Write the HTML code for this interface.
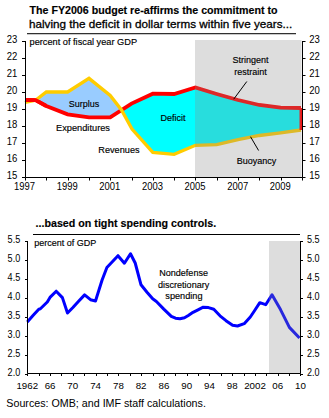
<!DOCTYPE html><html><head><meta charset="utf-8"><style>html,body{margin:0;padding:0;background:#fff;width:329px;height:418px;overflow:hidden}svg{display:block}text{font-family:"Liberation Sans", sans-serif;fill:#000;stroke:#000;stroke-width:0.15px}text.n{stroke-width:0}</style></head><body>
<svg width="329" height="418" viewBox="0 0 329 418">
<text x="29.5" y="14.2" font-size="11" font-weight="bold" textLength="248" lengthAdjust="spacingAndGlyphs">The FY2006 budget re-affirms the commitment to</text>
<text x="29" y="27.5" font-size="11.5" textLength="263.3" style="stroke-width:0.3px" lengthAdjust="spacingAndGlyphs">halving the deficit in dollar terms within five years...</text>
<rect x="27" y="33" width="269" height="1" fill="#303030"/><rect x="27" y="34" width="269" height="1" fill="#c8c8c8"/>
<polygon points="35.60,100.20 46.30,92.00 67.60,92.00 89.00,78.40 110.20,95.50 121.50,110.00 121.55,110.09 110.20,117.30 89.00,117.30 67.60,114.30 46.30,106.00" fill="#99CCFF"/>
<polygon points="121.55,110.00 131.50,103.60 152.80,93.70 174.10,94.00 195.40,87.50 216.70,94.00 238.00,100.00 259.30,105.00 280.60,107.70 301.00,108.00 301.00,130.00 280.60,132.80 259.30,135.50 238.00,139.60 216.70,144.60 195.40,145.30 174.10,154.30 152.80,152.40 132.00,129.00" fill="#00FFFF"/>
<polyline points="25.00,100.00 35.60,100.20 46.30,106.00 67.60,114.30 89.00,117.30 110.20,117.30 131.50,103.60 152.80,93.70 174.10,94.00 195.40,87.50 216.70,94.00 238.00,100.00 259.30,105.00 280.60,107.70 301.00,108.00" fill="none" stroke="#FF0000" stroke-width="3.8" stroke-linejoin="miter"/>
<polyline points="25.00,102.50 35.60,100.20 46.30,92.00 67.60,92.00 89.00,78.40 110.20,95.50 121.50,110.00 132.00,129.00 152.80,152.40 174.10,154.30 195.40,145.30 216.70,144.60 238.00,139.60 259.30,135.50 280.60,132.80 301.00,130.00" fill="none" stroke="#FFCC00" stroke-width="3.3" stroke-linejoin="miter"/>
<polyline points="25.00,100.00 35.60,100.20 46.30,106.00" fill="none" stroke="#FF0000" stroke-width="3.8" stroke-linejoin="miter"/>
<line x1="300.8" y1="108" x2="300.8" y2="130" stroke="#FF0000" stroke-width="2.6"/>
<rect x="195" y="40" width="106.5" height="137" fill="rgb(138,138,138)" fill-opacity="0.29"/>
<path d="M25.5,41 V177.5 H302.5 V41" fill="none" stroke="#000" stroke-width="1"/>
<path d="M22,41.5 H25.5 M302.5,41.5 H305.5 M22,58.5 H25.5 M302.5,58.5 H305.5 M22,75.5 H25.5 M302.5,75.5 H305.5 M22,92.5 H25.5 M302.5,92.5 H305.5 M22,109.5 H25.5 M302.5,109.5 H305.5 M22,126.5 H25.5 M302.5,126.5 H305.5 M22,143.5 H25.5 M302.5,143.5 H305.5 M22,160.5 H25.5 M302.5,160.5 H305.5 M22,177.5 H25.5 M302.5,177.5 H305.5 M25.5,177.5 V180.5 M46.5,177.5 V180.5 M68.5,177.5 V180.5 M89.5,177.5 V180.5 M110.5,177.5 V180.5 M132.5,177.5 V180.5 M153.5,177.5 V180.5 M174.5,177.5 V180.5 M195.5,177.5 V180.5 M217.5,177.5 V180.5 M238.5,177.5 V180.5 M259.5,177.5 V180.5 M281.5,177.5 V180.5 M302.5,177.5 V180.5" fill="none" stroke="#000" stroke-width="1"/>
<text class="n" x="17.4" y="42.9" font-size="10.3" text-anchor="end" textLength="10.6" lengthAdjust="spacingAndGlyphs">23</text>
<text class="n" x="309.3" y="42.9" font-size="10.3" textLength="10.6" lengthAdjust="spacingAndGlyphs">23</text>
<text class="n" x="17.4" y="59.9" font-size="10.3" text-anchor="end" textLength="10.6" lengthAdjust="spacingAndGlyphs">22</text>
<text class="n" x="309.3" y="59.9" font-size="10.3" textLength="10.6" lengthAdjust="spacingAndGlyphs">22</text>
<text class="n" x="17.4" y="76.9" font-size="10.3" text-anchor="end" textLength="10.6" lengthAdjust="spacingAndGlyphs">21</text>
<text class="n" x="309.3" y="76.9" font-size="10.3" textLength="10.6" lengthAdjust="spacingAndGlyphs">21</text>
<text class="n" x="17.4" y="93.9" font-size="10.3" text-anchor="end" textLength="10.6" lengthAdjust="spacingAndGlyphs">20</text>
<text class="n" x="309.3" y="93.9" font-size="10.3" textLength="10.6" lengthAdjust="spacingAndGlyphs">20</text>
<text class="n" x="17.4" y="110.9" font-size="10.3" text-anchor="end" textLength="10.6" lengthAdjust="spacingAndGlyphs">19</text>
<text class="n" x="309.3" y="110.9" font-size="10.3" textLength="10.6" lengthAdjust="spacingAndGlyphs">19</text>
<text class="n" x="17.4" y="127.9" font-size="10.3" text-anchor="end" textLength="10.6" lengthAdjust="spacingAndGlyphs">18</text>
<text class="n" x="309.3" y="127.9" font-size="10.3" textLength="10.6" lengthAdjust="spacingAndGlyphs">18</text>
<text class="n" x="17.4" y="144.9" font-size="10.3" text-anchor="end" textLength="10.6" lengthAdjust="spacingAndGlyphs">17</text>
<text class="n" x="309.3" y="144.9" font-size="10.3" textLength="10.6" lengthAdjust="spacingAndGlyphs">17</text>
<text class="n" x="17.4" y="161.9" font-size="10.3" text-anchor="end" textLength="10.6" lengthAdjust="spacingAndGlyphs">16</text>
<text class="n" x="309.3" y="161.9" font-size="10.3" textLength="10.6" lengthAdjust="spacingAndGlyphs">16</text>
<text class="n" x="17.4" y="178.9" font-size="10.3" text-anchor="end" textLength="10.6" lengthAdjust="spacingAndGlyphs">15</text>
<text class="n" x="309.3" y="178.9" font-size="10.3" textLength="10.6" lengthAdjust="spacingAndGlyphs">15</text>
<text class="n" x="24.6" y="189.8" font-size="10.3" text-anchor="middle" textLength="21" lengthAdjust="spacingAndGlyphs">1997</text>
<text class="n" x="67.2" y="189.8" font-size="10.3" text-anchor="middle" textLength="21" lengthAdjust="spacingAndGlyphs">1999</text>
<text class="n" x="109.8" y="189.8" font-size="10.3" text-anchor="middle" textLength="21" lengthAdjust="spacingAndGlyphs">2001</text>
<text class="n" x="152.4" y="189.8" font-size="10.3" text-anchor="middle" textLength="21" lengthAdjust="spacingAndGlyphs">2003</text>
<text class="n" x="195.1" y="189.8" font-size="10.3" text-anchor="middle" textLength="21" lengthAdjust="spacingAndGlyphs">2005</text>
<text class="n" x="237.7" y="189.8" font-size="10.3" text-anchor="middle" textLength="21" lengthAdjust="spacingAndGlyphs">2007</text>
<text class="n" x="280.3" y="189.8" font-size="10.3" text-anchor="middle" textLength="21" lengthAdjust="spacingAndGlyphs">2009</text>
<text x="29.5" y="44.6" font-size="9" textLength="107.6" lengthAdjust="spacingAndGlyphs">percent of fiscal year GDP</text>
<text x="84" y="106.8" font-size="9" text-anchor="middle">Surplus</text>
<text x="56" y="130.8" font-size="9" textLength="54" lengthAdjust="spacingAndGlyphs">Expenditures</text>
<text x="98.3" y="153.4" font-size="9" textLength="41.3" lengthAdjust="spacingAndGlyphs">Revenues</text>
<text x="173" y="120.8" font-size="9" text-anchor="middle">Deficit</text>
<text x="250.5" y="63.2" font-size="9" text-anchor="middle">Stringent</text>
<text x="250.5" y="74.7" font-size="9" text-anchor="middle">restraint</text>
<text x="256.5" y="163.9" font-size="9" text-anchor="middle">Buoyancy</text>
<line x1="246.8" y1="81.5" x2="233.7" y2="99.2" stroke="#000" stroke-width="1"/>
<line x1="250.5" y1="136.7" x2="258.6" y2="150.5" stroke="#000" stroke-width="1"/>
<text x="35.5" y="226.7" font-size="11" font-weight="bold" textLength="180.6" lengthAdjust="spacingAndGlyphs">...based on tight spending controls.</text>
<rect x="33" y="234" width="267" height="1" fill="#000"/>
<polyline points="27.30,322.00 33.00,315.50 38.80,309.20 40.40,308.80 47.30,302.00 50.00,297.40 56.20,291.20 62.40,297.60 67.50,313.00 72.90,307.50 78.60,301.30 84.60,294.90 90.50,299.70 95.50,301.00 102.10,280.00 106.90,267.50 112.80,261.30 118.00,255.70 124.40,263.20 130.50,253.80 135.20,263.00 141.00,284.80 147.00,292.20 152.70,298.80 156.40,301.50 163.80,309.10 171.30,316.40 175.50,318.20 180.00,318.80 184.50,317.80 188.30,315.50 193.00,312.30 198.00,309.80 203.20,307.20 208.50,307.60 213.80,309.20 220.00,315.80 226.00,320.70 232.60,325.30 237.50,326.00 244.20,323.70 250.30,317.00 254.00,311.50 259.80,302.70 265.70,304.70 272.00,294.80 280.50,309.60 289.40,327.40 299.50,338.00" fill="none" stroke="#0000FF" stroke-width="3" stroke-linejoin="round"/>
<rect x="269" y="241" width="31" height="132" fill="rgb(138,138,138)" fill-opacity="0.29"/>
<path d="M27.5,241 V373.5 H300.5 M300.5,373.5 V241" fill="none" stroke="#000" stroke-width="1"/>
<path d="M25,241.5 H27.5 M300.5,241.5 H303 M25,260.5 H27.5 M300.5,260.5 H303 M25,279.5 H27.5 M300.5,279.5 H303 M25,298.5 H27.5 M300.5,298.5 H303 M25,317.5 H27.5 M300.5,317.5 H303 M25,336.5 H27.5 M300.5,336.5 H303 M25,355.5 H27.5 M300.5,355.5 H303 M25,374.5 H27.5 M300.5,374.5 H303 M27.5,373.5 V376 M39.5,373.5 V376 M50.5,373.5 V376 M61.5,373.5 V376 M73.5,373.5 V376 M84.5,373.5 V376 M96.5,373.5 V376 M107.5,373.5 V376 M118.5,373.5 V376 M130.5,373.5 V376 M141.5,373.5 V376 M153.5,373.5 V376 M164.5,373.5 V376 M175.5,373.5 V376 M187.5,373.5 V376 M198.5,373.5 V376 M209.5,373.5 V376 M221.5,373.5 V376 M232.5,373.5 V376 M244.5,373.5 V376 M255.5,373.5 V376 M266.5,373.5 V376 M278.5,373.5 V376 M289.5,373.5 V376 M300.5,373.5 V376" fill="none" stroke="#000" stroke-width="1"/>
<text class="n" x="20.2" y="243.3" font-size="10.3" text-anchor="end" textLength="12.6" lengthAdjust="spacingAndGlyphs">5.5</text>
<text class="n" x="306.9" y="243.3" font-size="10.3" textLength="12.6" lengthAdjust="spacingAndGlyphs">5.5</text>
<text class="n" x="20.2" y="262.2" font-size="10.3" text-anchor="end" textLength="12.6" lengthAdjust="spacingAndGlyphs">5.0</text>
<text class="n" x="306.9" y="262.2" font-size="10.3" textLength="12.6" lengthAdjust="spacingAndGlyphs">5.0</text>
<text class="n" x="20.2" y="281.1" font-size="10.3" text-anchor="end" textLength="12.6" lengthAdjust="spacingAndGlyphs">4.5</text>
<text class="n" x="306.9" y="281.1" font-size="10.3" textLength="12.6" lengthAdjust="spacingAndGlyphs">4.5</text>
<text class="n" x="20.2" y="300.0" font-size="10.3" text-anchor="end" textLength="12.6" lengthAdjust="spacingAndGlyphs">4.0</text>
<text class="n" x="306.9" y="300.0" font-size="10.3" textLength="12.6" lengthAdjust="spacingAndGlyphs">4.0</text>
<text class="n" x="20.2" y="318.8" font-size="10.3" text-anchor="end" textLength="12.6" lengthAdjust="spacingAndGlyphs">3.5</text>
<text class="n" x="306.9" y="318.8" font-size="10.3" textLength="12.6" lengthAdjust="spacingAndGlyphs">3.5</text>
<text class="n" x="20.2" y="337.7" font-size="10.3" text-anchor="end" textLength="12.6" lengthAdjust="spacingAndGlyphs">3.0</text>
<text class="n" x="306.9" y="337.7" font-size="10.3" textLength="12.6" lengthAdjust="spacingAndGlyphs">3.0</text>
<text class="n" x="20.2" y="356.6" font-size="10.3" text-anchor="end" textLength="12.6" lengthAdjust="spacingAndGlyphs">2.5</text>
<text class="n" x="306.9" y="356.6" font-size="10.3" textLength="12.6" lengthAdjust="spacingAndGlyphs">2.5</text>
<text class="n" x="20.2" y="375.5" font-size="10.3" text-anchor="end" textLength="12.6" lengthAdjust="spacingAndGlyphs">2.0</text>
<text class="n" x="306.9" y="375.5" font-size="10.3" textLength="12.6" lengthAdjust="spacingAndGlyphs">2.0</text>
<text class="n" x="27.3" y="388.8" font-size="9.75" text-anchor="middle">1962</text>
<text class="n" x="50.1" y="388.8" font-size="9.75" text-anchor="middle">66</text>
<text class="n" x="72.8" y="388.8" font-size="9.75" text-anchor="middle">70</text>
<text class="n" x="95.6" y="388.8" font-size="9.75" text-anchor="middle">74</text>
<text class="n" x="118.4" y="388.8" font-size="9.75" text-anchor="middle">78</text>
<text class="n" x="141.1" y="388.8" font-size="9.75" text-anchor="middle">82</text>
<text class="n" x="163.9" y="388.8" font-size="9.75" text-anchor="middle">86</text>
<text class="n" x="186.7" y="388.8" font-size="9.75" text-anchor="middle">90</text>
<text class="n" x="209.4" y="388.8" font-size="9.75" text-anchor="middle">94</text>
<text class="n" x="232.2" y="388.8" font-size="9.75" text-anchor="middle">98</text>
<text class="n" x="255.0" y="388.8" font-size="9.75" text-anchor="middle">2002</text>
<text class="n" x="277.7" y="388.8" font-size="9.75" text-anchor="middle">06</text>
<text class="n" x="300.5" y="388.8" font-size="9.75" text-anchor="middle">10</text>
<text x="34.3" y="245.5" font-size="9">percent of GDP</text>
<text x="159.2" y="275.8" font-size="9" textLength="48.8" lengthAdjust="spacingAndGlyphs">Nondefense</text>
<text x="157.9" y="287.6" font-size="9" textLength="51.4" lengthAdjust="spacingAndGlyphs">discretionary</text>
<text x="165.3" y="299.4" font-size="9" textLength="37.3" lengthAdjust="spacingAndGlyphs">spending</text>
<text class="n" x="6.3" y="407.3" font-size="10.2" textLength="199.6" lengthAdjust="spacingAndGlyphs">Sources: OMB; and IMF staff calculations.</text>
</svg></body></html>
